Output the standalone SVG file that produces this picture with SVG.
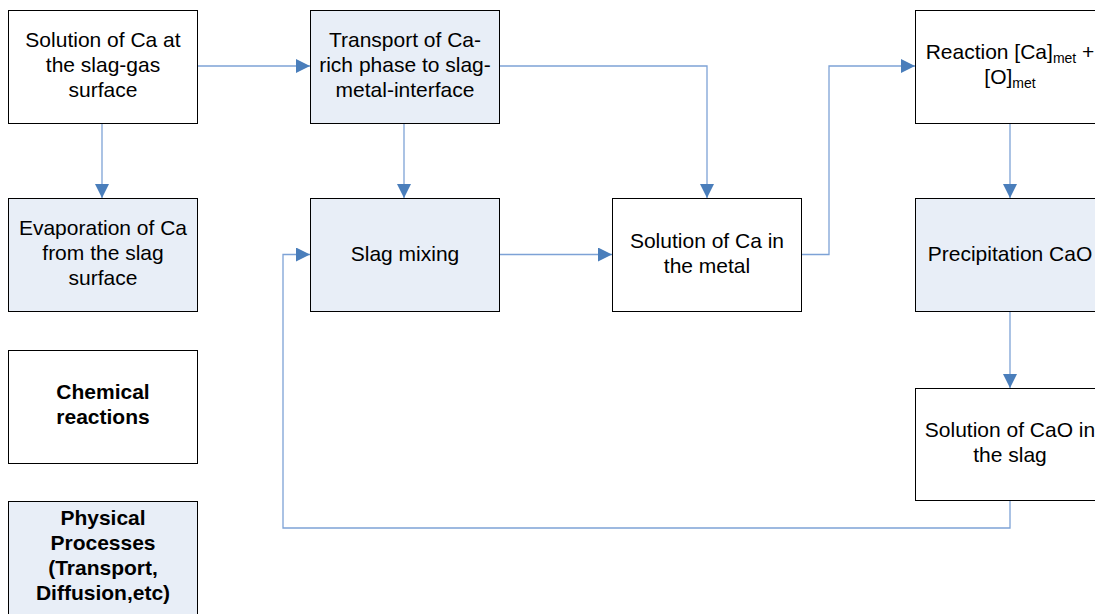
<svg xmlns="http://www.w3.org/2000/svg" width="1095" height="614" viewBox="0 0 1095 614">
<defs>
<marker id="ah" markerWidth="14" markerHeight="14" refX="14" refY="7" orient="auto" markerUnits="userSpaceOnUse">
<path d="M0,0 L14,7 L0,14 Z" fill="#4A7EBB"/>
</marker>
<style>
.w{fill:#FFFFFF;stroke:#000000;stroke-width:1}
.b{fill:#E8EEF7;stroke:#000000;stroke-width:1}
text{font-family:"Liberation Sans",Arial,sans-serif;font-size:21px;fill:#000000;text-anchor:middle}
.bold{font-weight:bold}
.c{fill:none;stroke:#7DA2D6;stroke-width:1.3}
.sub{font-size:14px}
</style>
</defs>
<rect width="1095" height="614" fill="#FFFFFF"/>
<g id="connectors">
<path class="c" d="M197,66 H310" marker-end="url(#ah)"/>
<path class="c" d="M102,123 V198" marker-end="url(#ah)"/>
<path class="c" d="M404,123 V198" marker-end="url(#ah)"/>
<path class="c" d="M499,66 H707 V198" marker-end="url(#ah)"/>
<path class="c" d="M499,254.5 H612" marker-end="url(#ah)"/>
<path class="c" d="M801,254.5 H829 V66 H915" marker-end="url(#ah)"/>
<path class="c" d="M1010,123 V198" marker-end="url(#ah)"/>
<path class="c" d="M1010,311 V388" marker-end="url(#ah)"/>
<path class="c" d="M1010,500 V528 H283 V254.5 H310" marker-end="url(#ah)"/>
</g>
<g id="n1"><rect class="w" x="8.5" y="10.5" width="189" height="113"/>
<text x="103" y="47">Solution of Ca at</text><text x="103" y="72">the slag-gas</text><text x="103" y="97">surface</text></g>
<g id="n2"><rect class="b" x="310.5" y="10.5" width="189" height="113"/>
<text x="405" y="47">Transport of Ca-</text><text x="405" y="72">rich phase to slag-</text><text x="405" y="97">metal-interface</text></g>
<g id="n3"><rect class="w" x="915.5" y="10.5" width="189" height="113"/>
<text x="1010" y="59">Reaction [Ca]<tspan class="sub" dy="4">met</tspan><tspan dy="-4"> +</tspan></text>
<text x="1010" y="84">[O]<tspan class="sub" dy="4">met</tspan></text></g>
<g id="n4"><rect class="b" x="8.5" y="198.5" width="189" height="113"/>
<text x="103" y="235">Evaporation of Ca</text><text x="103" y="260">from the slag</text><text x="103" y="285">surface</text></g>
<g id="n5"><rect class="b" x="310.5" y="198.5" width="189" height="113"/>
<text x="405" y="261">Slag mixing</text></g>
<g id="n6"><rect class="w" x="612.5" y="198.5" width="189" height="113"/>
<text x="707" y="248">Solution of Ca in</text><text x="707" y="273">the metal</text></g>
<g id="n7"><rect class="b" x="915.5" y="198.5" width="189" height="113"/>
<text x="1010" y="261">Precipitation CaO</text></g>
<g id="n8"><rect class="w" x="8.5" y="350.5" width="189" height="113"/>
<text class="bold" x="103" y="399">Chemical</text><text class="bold" x="103" y="424">reactions</text></g>
<g id="n9"><rect class="b" x="8.5" y="501.5" width="189" height="113"/>
<text class="bold" x="103" y="525">Physical</text><text class="bold" x="103" y="550">Processes</text><text class="bold" x="103" y="575">(Transport,</text><text class="bold" x="103" y="600">Diffusion,etc)</text></g>
<g id="n10"><rect class="w" x="915.5" y="388.5" width="189" height="112"/>
<text x="1010" y="437">Solution of CaO in</text><text x="1010" y="462">the slag</text></g>
</svg>
